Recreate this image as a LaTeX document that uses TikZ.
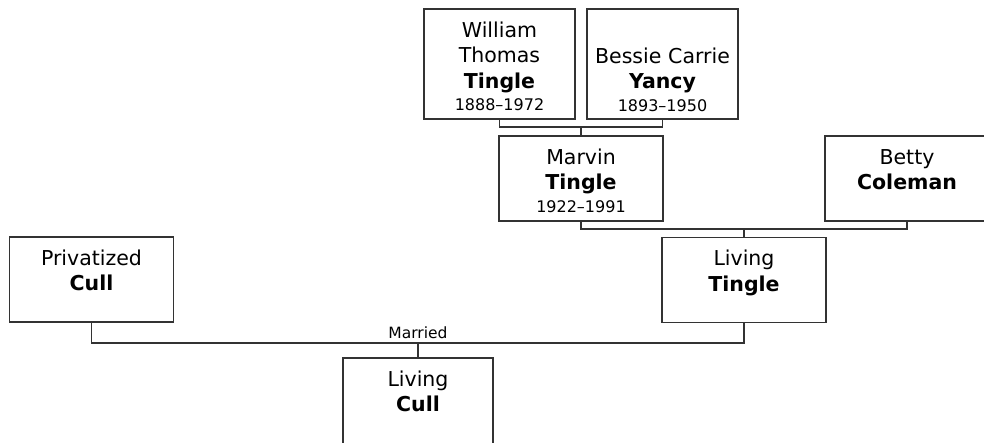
\documentclass[tikz,border=0pt]{standalone}
\usepackage{fontspec}
\setmainfont{DejaVu Sans}
\definecolor{edge}{HTML}{333333}
\newcommand{\yrs}[1]{\\[-3pt]{\fontsize{16pt}{19pt}\selectfont #1}}

\begin{document}
\begin{tikzpicture}[x=1pt, y=-1pt,
  card/.style={draw=edge, line width=1.3pt, inner sep=0pt, align=center,
    text width=164pt, text height=28pt, text depth=57pt,
    font=\fontsize{20.5pt}{25.5pt}\selectfont},
  link/.style={draw=edge, line width=1.3pt}]
  \useasboundingbox (0,0) rectangle (984,442);

  % grandparents
  \node[card, text width=151pt, text depth=82pt] (wil) at (499.5,64)
    {William\\Thomas\\\textbf{Tingle}\yrs{1888--1972}};
  \node[card, text width=151pt, text height=54pt, text depth=56pt] (bes) at (662.5,64)
    {Bessie Carrie\\\textbf{Yancy}\yrs{1893--1950}};

  % parents
  \node[card] (mar) at (581,178.5) {Marvin\\\textbf{Tingle}\yrs{1922--1991}};
  \node[card] (bet) at (907,178.5) {Betty\\\textbf{Coleman}};
  \node[card] (ltin) at (744,280) {Living\\\textbf{Tingle}};
  \node[card] (pri) at (91.5,279.5) {Privatized\\\textbf{Cull}};
  \node[card, text width=150pt, text depth=62pt] (lcul) at (418,403) {Living\\\textbf{Cull}};

  \coordinate (wb) at (581,127);
  \draw[link] (wil.south) |- (wb) -| (bes.south);
  \draw[link] (wb) -- (mar.north);

  \coordinate (mb) at (744,229);
  \draw[link] (mar.south) |- (mb) -| (bet.south);
  \draw[link] (mb) -- (ltin.north);

  \coordinate (pl) at (418,343);
  \draw[link] (pri.south) |- (pl) -| (ltin.south);
  \draw[link] (pl) -- (lcul.north);
  \node[anchor=base, font=\fontsize{15.5pt}{18pt}\selectfont] (mlab) at (418,338) {Married};
\end{tikzpicture}
\end{document}
